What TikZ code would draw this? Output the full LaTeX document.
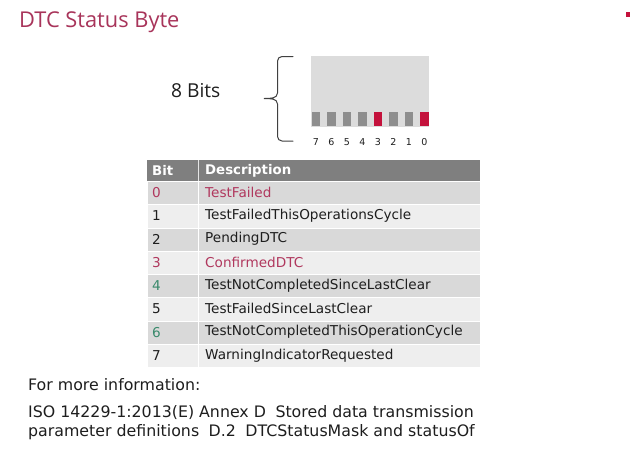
\documentclass[tikz,border=0pt]{standalone}
\usepackage{fontspec}
\setmainfont{DejaVu Sans}
\newfontfamily\titlefont{Open Sans}
\definecolor{titlered}{HTML}{A8345A}
\definecolor{txtred}{HTML}{B0385E}
\definecolor{txtgreen}{HTML}{3A8A6C}
\definecolor{txtblack}{HTML}{1E1E1E}
\definecolor{boxgray}{HTML}{DCDCDC}
\definecolor{bitgray}{HTML}{8E8E8E}
\definecolor{bitred}{HTML}{C4123C}
\definecolor{hdrgray}{HTML}{7F7F7F}
\definecolor{rowdark}{HTML}{D9D9D9}
\definecolor{rowlight}{HTML}{EEEEEE}
\tikzset{
  cell/.style={anchor=north west, inner sep=0, minimum width=333pt, minimum height=23.25pt, draw=white, line width=0.8pt},
  tabtxt/.style={anchor=west, inner sep=0, text=txtblack, font=\fontsize{13.6}{16}\selectfont},
  hdrtxt/.style={anchor=west, inner sep=0, text=white, font=\bfseries\fontsize{13.3}{15}\selectfont},
  bitbox/.style={anchor=north west, inner sep=0, minimum width=8.3pt, minimum height=14pt},
  bitnum/.style={inner sep=0, text=txtblack, font=\fontsize{9.5}{11}\selectfont},
  foot/.style={anchor=west, inner sep=0, text=txtblack, font=\fontsize{15.8}{18}\selectfont}
}
\begin{document}
\begin{tikzpicture}[x=1pt,y=-1pt]
\useasboundingbox[fill=white] (0,0) rectangle (640,448);
% title
\node[anchor=west, inner sep=0, text=titlered, font=\titlefont\fontsize{21.8}{26}\selectfont] (title) at (19,22) {DTC Status Byte};
\node[fill=bitred, inner sep=0, minimum width=4pt, minimum height=5pt] (dot) at (628,14) {};
% 8 bits
\node[anchor=west, inner sep=0, text=txtblack, font=\titlefont\fontsize{19.2}{22}\selectfont] (eight) at (171,91) {8 Bits};
\draw[txtblack!85, line width=1pt, line cap=round]
  (293,56.5) -- (282,56.5) to[out=180,in=90] (277.5,61) -- (277.5,93)
  to[out=-90,in=0] (264,98.5) to[out=0,in=90] (277.5,104) -- (277.5,136.5)
  to[out=-90,in=180] (282,141) -- (293,141);
\node[anchor=north west, inner sep=0, fill=boxgray, minimum width=118pt, minimum height=71pt] (byte) at (311,56) {};
\foreach \k in {0,...,7}{
  \pgfmathtruncatemacro{\b}{7-\k}
  \ifnum\b=0 \def\bc{bitred}\else\ifnum\b=3 \def\bc{bitred}\else\def\bc{bitgray}\fi\fi
  \node[bitbox, fill=\bc] (bit\b) at ({311.7+15.5*\k},112) {};
  \node[bitnum] (lab\b) at ({316+15.5*\k},142) {\b};
}
% table
\node[anchor=north west, inner sep=0, fill=hdrgray, minimum width=333pt, minimum height=21pt] (hdr) at (147,160) {};
\draw[white!80!hdrgray, line width=0.8pt] (198,160) -- (198,181);
\node[hdrtxt] (hbit) at (152,170.5) {Bit};
\node[hdrtxt] (hdesc) at (205,170.5) {Description};
\foreach \i/\d/\nc/\dc in {
  0/TestFailed/txtred/txtred,
  1/TestFailedThisOperationsCycle/txtblack/txtblack,
  2/PendingDTC/txtblack/txtblack,
  3/ConfirmedDTC/txtred/txtred,
  4/TestNotCompletedSinceLastClear/txtgreen/txtblack,
  5/TestFailedSinceLastClear/txtblack/txtblack,
  6/TestNotCompletedThisOperationCycle/txtgreen/txtblack,
  7/WarningIndicatorRequested/txtblack/txtblack}{
  \pgfmathtruncatemacro{\odd}{mod(\i,2)}
  \ifnum\odd=0 \def\rc{rowdark}\else\def\rc{rowlight}\fi
  \node[cell, fill=\rc] (row\i) at (147,{181+23.25*\i}) {};
  \draw[white, line width=0.8pt] (198,{181+23.25*\i}) -- (198,{181+23.25*(\i+1)});
  \node[tabtxt, text=\nc] (n\i) at (152,{192.6+23.25*\i}) {\i};
  \node[tabtxt, text=\dc] (d\i) at (205,{192.6+23.25*\i}) {\d};
}
% footer
\begin{scope}
\clip (0,370) rectangle (474,448);
\node[foot] (more) at (28,385) {For more information:};
\node[foot] (iso) at (28,413) {ISO 14229-1:2013(E) Annex D\hspace{0.6em}Stored data transmission};
\node[foot] (par) at (28,432) {parameter definitions\hspace{0.6em}D.2\hspace{0.6em}DTCStatusMask and statusOfDTC};
\end{scope}
\end{tikzpicture}
\end{document}
